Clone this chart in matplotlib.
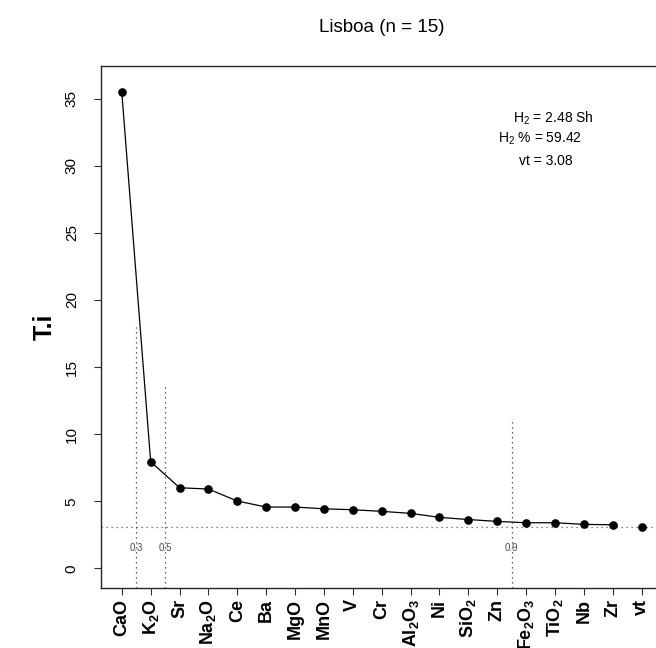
import matplotlib
matplotlib.use("Agg")
import matplotlib.pyplot as plt
import numpy as np

plt.rcParams['font.family'] = ['Liberation Sans', 'DejaVu Sans']
plt.rcParams['mathtext.fontset'] = 'custom'
plt.rcParams['mathtext.rm'] = 'Liberation Sans'
plt.rcParams['mathtext.bf'] = 'Liberation Sans:bold'
plt.rcParams['mathtext.it'] = 'Liberation Sans:italic'

categories = ["CaO", r"$\mathbf{K_2O}$", "Sr", r"$\mathbf{Na_2O}$", "Ce", "Ba", "MgO", "MnO",
              "V", "Cr", r"$\mathbf{Al_2O_3}$", "Ni", r"$\mathbf{SiO_2}$", "Zn",
              r"$\mathbf{Fe_2O_3}$", r"$\mathbf{TiO_2}$", "Nb", "Zr", "vt"]
values = [35.48, 7.95, 6.01, 5.91, 5.02, 4.57, 4.57, 4.44, 4.37, 4.25, 4.10,
          3.80, 3.64, 3.50, 3.40, 3.40, 3.28, 3.25, 3.08]
vt_value = 3.08
cut_labels = ["0.3", "0.5", "0.9"]
cut_positions = [1.5, 2.5, 14.5]
cut_heights = [18.0, 13.8, 11.2]
yticks = [0, 5, 10, 15, 20, 25, 30, 35]

W, H = 656, 648
fig = plt.figure(figsize=(W / 100, H / 100), dpi=100)
x0, x1 = 101, 662.4
ytop, ybot = 65.7, 587.7
ax = fig.add_axes([x0 / W, (H - ybot) / H, (x1 - x0) / W, (ybot - ytop) / H])

x = np.arange(1, len(categories) + 1)
n = len(categories)
ax.set_xlim(1 - 0.72, n + 0.72)
ax.set_ylim(-1.44, 37.46)

# horizontal reference line at vt
ax.axhline(vt_value, color='0.35', linestyle=(0, (1, 3)), linewidth=0.9)
# vertical cut lines
for cx, ch, cl in zip(cut_positions, cut_heights, cut_labels):
    ax.plot([cx, cx], [-1.44, ch], color='0.2', linestyle=(0, (1, 3)), linewidth=0.9)
    ax.text(cx, 1.5, cl, ha='center', va='center', fontsize=7, color='0.3')

ax.plot(x[:-1], values[:-1], color='black', linewidth=0.9)
ax.plot(x, values, linestyle='none', marker='o', markersize=5.2, color='black')

ax.set_xticks(x)
ax.set_xticklabels(categories, rotation=90, fontweight='bold', fontsize=13)
ax.set_yticks(yticks)
ax.set_yticklabels([str(t) for t in yticks], rotation=90, va='center', fontsize=11)
ax.tick_params(axis='both', direction='out', length=5, width=0.8, color='0.2')
ax.tick_params(axis='x', pad=3)
ax.tick_params(axis='y', pad=11)
for s in ax.spines.values():
    s.set_linewidth(1.0)
    s.set_color('0.15')

ax.set_ylabel("T.i", fontsize=18, fontweight='bold')
ax.yaxis.set_label_coords((57 - x0) / (x1 - x0), 0.5)

fig.text(381.5 / W, 1 - 28 / H, "Lisboa (n = 15)", ha='center', va='center', fontsize=13.5)

fig.text(553 / W, 1 - 118 / H, r"H$_2$ = 2.48 Sh", ha='center', va='center', fontsize=10)
fig.text(540 / W, 1 - 139 / H, r"H$_2$ % = 59.42", ha='center', va='center', fontsize=10)
fig.text(546 / W, 1 - 161 / H, "vt = 3.08", ha='center', va='center', fontsize=10)

fig.savefig("out.png", dpi=100)
